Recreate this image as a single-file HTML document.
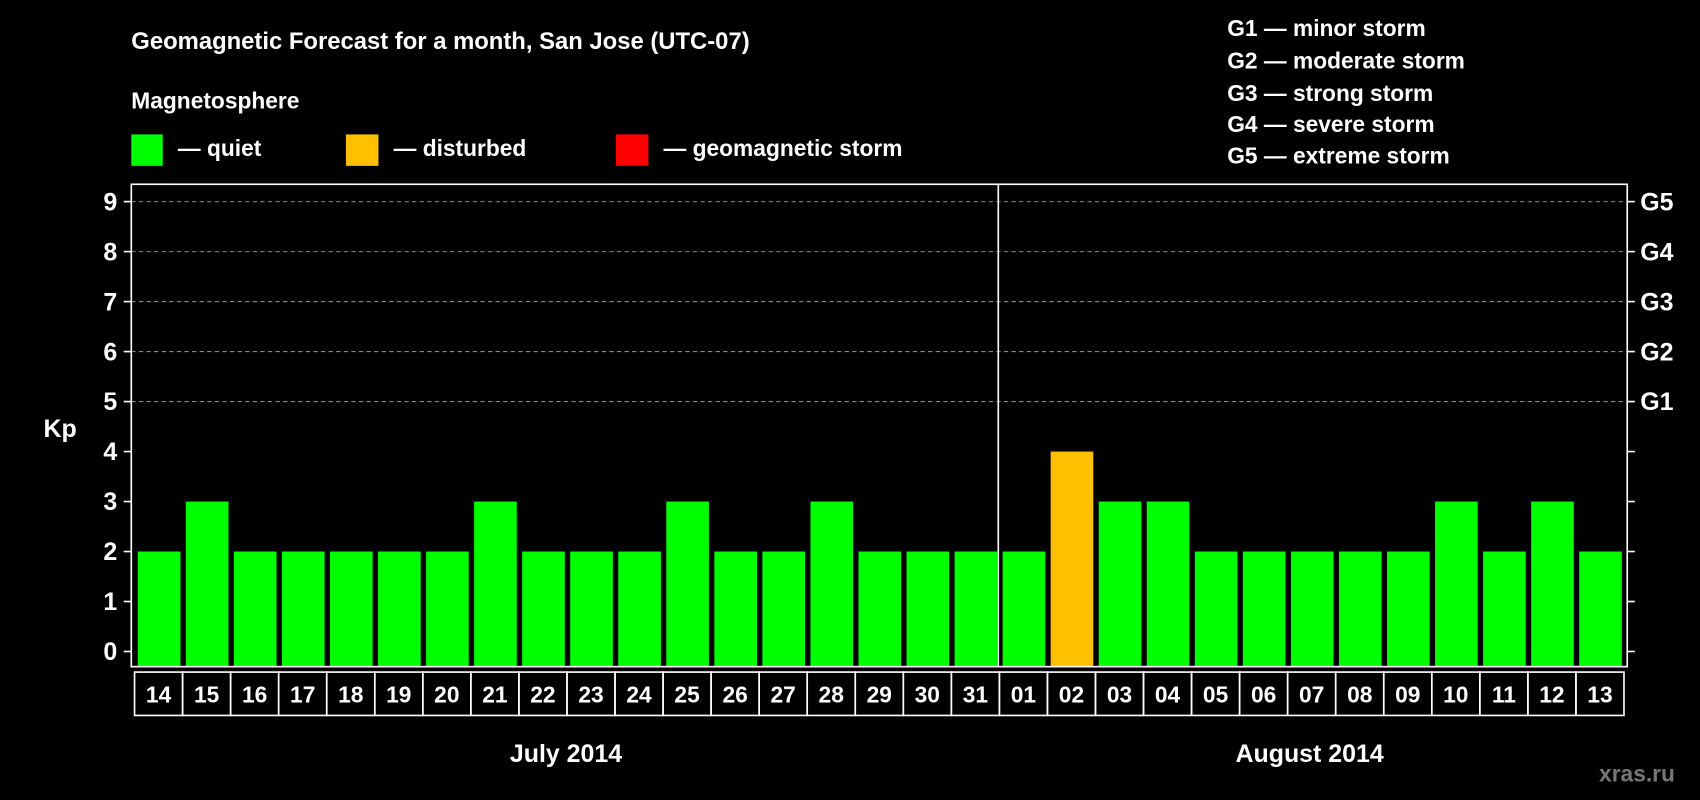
<!DOCTYPE html>
<html><head><meta charset="utf-8"><style>
html,body{margin:0;padding:0;background:#000;width:1700px;height:800px;overflow:hidden}
svg{display:block;font-family:"Liberation Sans",Arial,sans-serif;font-weight:bold}
</style></head><body>
<svg id="chart" width="1700" height="800" viewBox="0 0 1568 738" xmlns="http://www.w3.org/2000/svg">
<rect width="1568" height="738" fill="#000"/>
<text x="121" y="45" fill="#fff" font-size="22">Geomagnetic Forecast for a month, San Jose (UTC-07)</text>
<text x="121" y="100" fill="#fff" font-size="21">Magnetosphere</text>
<rect x="121" y="124" width="29" height="29" fill="#00ff00"/>
<text x="164" y="144" fill="#fff" font-size="21">— quiet</text>
<rect x="319" y="124" width="30" height="29" fill="#ffc000"/>
<text x="363" y="144" fill="#fff" font-size="21">— disturbed</text>
<rect x="568" y="124" width="30" height="29" fill="#ff0000"/>
<text x="612" y="144" fill="#fff" font-size="21">— geomagnetic storm</text>
<g fill="#fff" font-size="21">
<text x="1132" y="33">G1 — minor storm</text>
<text x="1132" y="63">G2 — moderate storm</text>
<text x="1132" y="93">G3 — strong storm</text>
<text x="1132" y="122">G4 — severe storm</text>
<text x="1132" y="151">G5 — extreme storm</text>
</g>
<text x="40" y="403" fill="#fff" font-size="23">Kp</text>
<g id="plot"></g>
<text x="522" y="703" fill="#fff" font-size="23" text-anchor="middle">July 2014</text>
<text x="1208" y="703" fill="#fff" font-size="23" text-anchor="middle">August 2014</text>
<text x="1475" y="721" fill="#777" font-size="21">xras.ru</text>
</svg>
<script>
const days=["14","15","16","17","18","19","20","21","22","23","24","25","26","27","28","29","30","31","01","02","03","04","05","06","07","08","09","10","11","12","13"];
const kp=[2,3,2,2,2,2,2,3,2,2,2,3,2,2,3,2,2,2,2,4,3,3,2,2,2,2,2,3,2,3,2];
const yTicks=[0,1,2,3,4,5,6,7,8,9];
const gLabels=[["G1",5],["G2",6],["G3",7],["G4",8],["G5",9]];
const NS="http://www.w3.org/2000/svg";
const L=121,R=1501,T=170,B=615;
const y=v=>601-v*(601-186)/9;
const pitch=(1498-124)/days.length;
const x=i=>124+i*pitch;
const g=document.getElementById('plot');
function mk(t,a){const e=document.createElementNS(NS,t);for(const k in a)e.setAttribute(k,a[k]);g.appendChild(e);return e;}
// grid
gLabels.forEach(([lab,v])=>{
 const ln=mk('line',{x1:L,x2:R,y1:y(v),y2:y(v),stroke:'#888','stroke-dasharray':'4,3','stroke-width':1});
 
 
 const t=mk('text',{x:1513,y:y(v)+8,fill:'#fff','font-size':23});
 t.textContent=lab;
 
 
});
yTicks.forEach(v=>{
 mk('line',{x1:114,x2:L,y1:y(v),y2:y(v),stroke:'#fff','stroke-width':1.5});
 mk('line',{x1:R,x2:1508,y1:y(v),y2:y(v),stroke:'#fff','stroke-width':1.5});
 const t=mk('text',{x:108,y:y(v)+8,fill:'#fff','font-size':23,'text-anchor':'end'});
 t.textContent=v;
 
 
});
// bars
kp.forEach((v,i)=>{
 const c=v>=5?'#ff0000':(v>=4?'#ffc000':'#00ff00');
 const b=mk('rect',{x:x(i)+3,y:y(v),width:pitch-5,height:B-y(v),fill:c});
 
 
});
// frame
const fr=mk('rect',{x:L,y:T,width:R-L,height:B-T,fill:'none',stroke:'#fff','stroke-width':1.5});


const div=mk('line',{x1:x(18)-1,x2:x(18)-1,y1:T,y2:B,stroke:'#fff','stroke-width':1.5});


// date cells
days.forEach((d,i)=>{
 const r=mk('rect',{x:x(i),y:620,width:pitch,height:40,fill:'none',stroke:'#fff','stroke-width':1.5});
 
 
 const t=mk('text',{x:x(i)+pitch/2,y:648,fill:'#fff','font-size':21,'text-anchor':'middle'});
 t.textContent=d;
 
 
});
</script>
</body></html>
